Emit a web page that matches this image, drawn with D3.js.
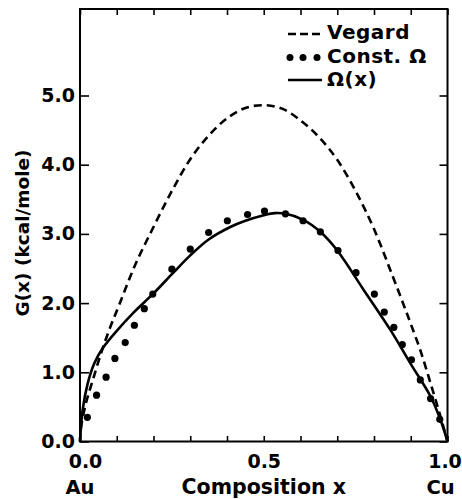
<!DOCTYPE html>
<html>
<head>
<meta charset="utf-8">
<script src="https://cdn.jsdelivr.net/npm/d3@7"></script>
<style>
  body { margin: 0; background: #fff; }
  svg text { font-family: "DejaVu Sans", sans-serif; font-weight: bold; fill: #000; }
</style>
</head>
<body>
<div id="chart"></div>
<script>
// Au-Cu free energy curves (kcal/mole)

// Vegard (dashed)
const vegardX = [0, 0.003, 0.016, 0.035, 0.057, 0.08, 0.107, 0.15, 0.2, 0.25, 0.3, 0.35, 0.4, 0.45, 0.5,
  0.55, 0.6, 0.65, 0.7, 0.75, 0.8, 0.85, 0.881, 0.9, 0.926, 0.954, 0.981, 1.0];
const vegardG = [0, 0.21, 0.55, 0.89, 1.27, 1.62, 1.98, 2.55, 3.1, 3.62, 4.08, 4.42, 4.67, 4.82, 4.86,
  4.81, 4.64, 4.4, 4.07, 3.62, 3.07, 2.4, 1.97, 1.7, 1.32, 0.84, 0.36, 0];

// Omega(x) (solid)
const omegaX = [0, 0.007, 0.021, 0.039, 0.062, 0.1, 0.145, 0.2, 0.254, 0.3, 0.35, 0.409, 0.45, 0.5, 0.53,
  0.56, 0.609, 0.654, 0.7, 0.772, 0.845, 0.899, 0.954, 0.981, 1.0];
const omegaG = [0, 0.45, 0.84, 1.13, 1.35, 1.6, 1.86, 2.14, 2.44, 2.69, 2.92, 3.1, 3.19, 3.27, 3.30,
  3.29, 3.2, 3.03, 2.76, 2.19, 1.61, 1.13, 0.65, 0.31, 0];

// Const. Omega (dots)
const constX = [0.02, 0.045, 0.071, 0.095, 0.123, 0.148, 0.175, 0.198, 0.25, 0.3, 0.35, 0.401, 0.456, 0.502,
  0.559, 0.607, 0.654, 0.702, 0.751, 0.801, 0.828, 0.854, 0.877, 0.902, 0.926, 0.954, 0.979];
const constG = [0.35, 0.67, 0.93, 1.2, 1.43, 1.68, 1.92, 2.13, 2.49, 2.78, 3.02, 3.19, 3.28, 3.33,
  3.29, 3.19, 3.03, 2.76, 2.44, 2.13, 1.87, 1.65, 1.40, 1.18, 0.89, 0.62, 0.32];

const xTicks = [0, 0.1, 0.2, 0.3, 0.4, 0.5, 0.6, 0.7, 0.8, 0.9, 1.0];
const xTickLabels = {0: '0.0', 0.5: '0.5', 1: '1.0'};
const yTicks = [0, 1, 2, 3, 4, 5];
const legendLabels = ['Vegard', 'Const. \u03a9', '\u03a9(x)'];

const width = 462;
const height = 499;

let svg = d3.select('#chart')
  .append('svg')
  .attr('width', width)
  .attr('height', height);

let x = d3.scaleLinear().domain([0, 1]).range([80, 447.5]);
let y = d3.scaleLinear().domain([0, 6.25]).range([441.5, 9]);

// frame
svg.append('rect')
  .attr('x', x(0)).attr('y', y(6.25))
  .attr('width', x(1) - x(0)).attr('height', y(0) - y(6.25))
  .attr('fill', 'none').attr('stroke', '#000').attr('stroke-width', 2);

function styleAxis(g, size) {
  g.select('.domain').remove();
  g.selectAll('line').attr('stroke', '#000').attr('stroke-width', 1.6);
  g.attr('font-family', null).attr('font-size', null);
  g.selectAll('text').style('font-size', size + 'px');
}

svg.append('g')
  .attr('transform', `translate(0,${y(0)})`)
  .call(d3.axisBottom(x).tickValues(xTicks).tickSizeInner(-5.5).tickSizeOuter(0).tickPadding(13)
    .tickFormat(d => xTickLabels[d] || ''))
  .call(g => styleAxis(g, 19))
  // end labels sit a little inside the frame corners
  .call(g => g.selectAll('text').attr('dx', d => d === 0 ? 5 : d === 1 ? -3 : 0));

svg.append('g')
  .attr('transform', `translate(0,${y(6.25)})`)
  .call(d3.axisTop(x).tickValues(xTicks).tickSizeInner(-6).tickSizeOuter(0).tickFormat(''))
  .call(g => styleAxis(g, 19));

svg.append('g')
  .attr('transform', `translate(${x(0)},0)`)
  .call(d3.axisLeft(y).tickValues(yTicks).tickSizeInner(-9).tickSizeOuter(0).tickPadding(5)
    .tickFormat(d3.format('.1f')))
  .call(g => styleAxis(g, 19));

svg.append('g')
  .attr('transform', `translate(${x(1)},0)`)
  .call(d3.axisRight(y).tickValues(yTicks).tickSizeInner(-8).tickSizeOuter(0).tickFormat(''))
  .call(g => styleAxis(g, 19));

// axis titles
svg.append('text')
  .attr('x', x(0)).attr('y', 494)
  .attr('text-anchor', 'middle').style('font-size', '19.5px')
  .text('Au');
svg.append('text')
  .attr('x', x(1) - 7).attr('y', 494)
  .attr('text-anchor', 'middle').style('font-size', '19.5px')
  .text('Cu');
svg.append('text')
  .attr('x', x(0.5)).attr('y', 494)
  .attr('text-anchor', 'middle').style('font-size', '20.5px')
  .text('Composition x');
svg.append('text')
  .attr('transform', 'translate(29,233) rotate(-90)')
  .attr('text-anchor', 'middle').style('font-size', '18.5px')
  .text('G(x) (kcal/mole)');

// curves
let line = d3.line()
  .x(d => x(d[0]))
  .y(d => y(d[1]))
  .curve(d3.curveCatmullRom.alpha(0.5));

svg.append('path')
  .datum(d3.zip(vegardX, vegardG))
  .attr('d', line)
  .attr('fill', 'none').attr('stroke', '#000')
  .attr('stroke-width', 2.6).attr('stroke-dasharray', '8,5');

svg.append('path')
  .datum(d3.zip(omegaX, omegaG))
  .attr('d', line)
  .attr('fill', 'none').attr('stroke', '#000')
  .attr('stroke-width', 2.6);

svg.append('g')
  .selectAll('circle')
  .data(d3.zip(constX, constG))
  .enter()
  .append('circle')
  .attr('cx', d => x(d[0]))
  .attr('cy', d => y(d[1]))
  .attr('r', 3.6)
  .attr('fill', '#000');

// legend
let legend = svg.append('g');
let rows = legend.selectAll('g')
  .data(legendLabels)
  .enter()
  .append('g')
  .attr('transform', (d, i) => `translate(288,${39 + i * 23.5})`);

rows.append('text')
  .attr('x', 39)
  .style('font-size', '20px')
  .style('letter-spacing', '0.5px')
  .text(d => d);

rows.filter((d, i) => i === 0).append('line')
  .attr('x1', 0).attr('x2', 32).attr('y1', -5).attr('y2', -5)
  .attr('stroke', '#000').attr('stroke-width', 2.4).attr('stroke-dasharray', '8,4');

rows.filter((d, i) => i === 1).selectAll('circle')
  .data([2, 15, 29])
  .enter()
  .append('circle')
  .attr('cx', d => d).attr('cy', -5).attr('r', 3.5)
  .attr('fill', '#000');

rows.filter((d, i) => i === 2).append('line')
  .attr('x1', 0).attr('x2', 34).attr('y1', -6).attr('y2', -6)
  .attr('stroke', '#000').attr('stroke-width', 2.4);
</script>
</body>
</html>
